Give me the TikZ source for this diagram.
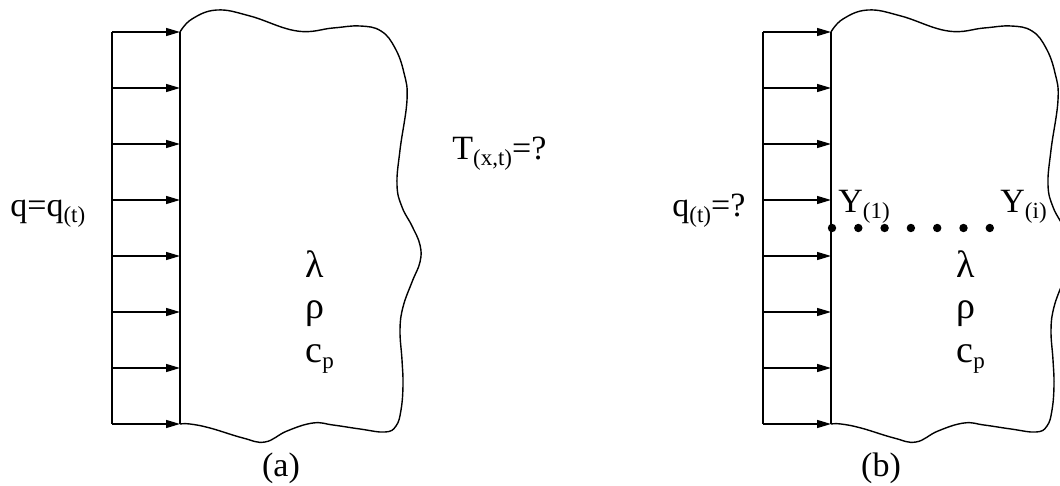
\documentclass[tikz,border=0pt]{standalone}
\usepackage{fontspec}
\setmainfont{Liberation Serif}
\usetikzlibrary{arrows.meta}

\newcommand{\lowsub}[1]{\raisebox{-0.35ex}{\fontsize{11.5}{13}\selectfont #1}}

\begin{document}
\begin{tikzpicture}[x=0.5pt,y=-0.5pt,
  flux/.style={-{Triangle[length=7pt,width=4pt]}, line width=0.65pt},
  edge/.style={line width=0.7pt},
  lbl/.style={anchor=base west, inner sep=0pt, font=\fontsize{17}{20}\selectfont},
  mat/.style={lbl, font=\fontsize{19}{22}\selectfont}]
\useasboundingbox (0,0) rectangle (1060,486);

% plate with heat flux, same for (a) and (b)
\foreach \dx/\p in {0/a,651/b}{
\begin{scope}[shift={(\dx,0)}]
  \foreach \i in {0,...,7}{
    \coordinate (l\p\i) at (112,{32+56*\i});
    \coordinate (w\p\i) at (180,{32+56*\i});
    \draw[flux] (l\p\i) -- (w\p\i);
  }
  \draw[edge] (l\p0) -- (l\p7);
  \draw[edge] (w\p0) -- (w\p7);
  % wavy outline of the body
  \draw[edge] plot[smooth, tension=0.7] coordinates {
    (180,32) (192,19) (217,10) (250,16) (297,31) (333,28) (360,26) (381,31)
    (395,48) (404,73) (407,100) (400,150) (397,185) (402,207) (412,226)
    (420,245) (420,262) (412,282) (403,307) (400,330) (402,360) (403,385)
    (401,410) (396,426) (385,432) (360,429) (333,425) (313,423) (287,431)
    (265,442) (243,438) (210,428) (190,424) (180,424)};
  % material data
  \node[mat] (lam\p) at (305,278) {λ};
  \node[mat] (rho\p) at (305,318) {ρ};
  \node[mat] (cp\p) at (305,362) {c\lowsub{p}};
\end{scope}
}

% (a) direct problem
\node[lbl] (qa) at (10,217) {q=q\lowsub{(t)}};
\node[lbl] (Ta) at (452,160) {T\lowsub{(x,t)}=?};
\node[font=\fontsize{17}{20}\selectfont] (capa) at (281,468) {(a)};

% (b) inverse problem
\node[lbl] (qb) at (672,217) {q\lowsub{(t)}=?};
\node[lbl] (Y1) at (838,213) {Y\lowsub{(1)}};
\node[lbl] (Yi) at (1000,213) {Y\lowsub{(i)}};
\foreach \k in {0,...,6} \fill (832+26.3*\k,228) circle[radius=2.1pt];
\node[font=\fontsize{17}{20}\selectfont] (capb) at (881,468) {(b)};

\end{tikzpicture}
\end{document}
